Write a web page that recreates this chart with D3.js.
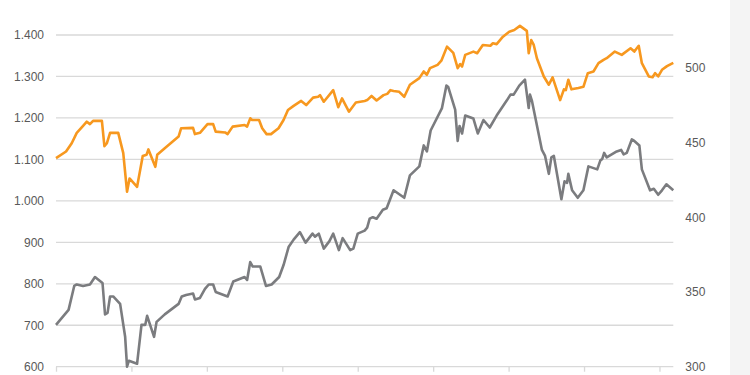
<!DOCTYPE html>
<html>
<head>
<meta charset="utf-8">
<script src="https://cdn.jsdelivr.net/npm/d3@7"></script>
<style>
  html, body { margin: 0; padding: 0; background: #fff; }
  svg { display: block; }
  .tick text { font-family: "Liberation Sans", Arial, sans-serif; font-size: 12px; fill: #595959; }
</style>
</head>
<body>
<svg id="chart" width="750" height="375"></svg>
<script>
// x = months since start, ticks every 12 months
var orangeMonths = [0, 1.6, 2.5, 3.3, 4.2, 4.9, 5.4, 5.9, 7.3, 7.7, 8.1, 8.6, 9.9, 10.7, 11.3, 11.7, 12.9,
  13.8, 14.4, 14.7, 15.8, 16.1, 17.3, 19.5, 19.9, 21.8, 22.1, 22.9, 24.1, 25.0, 25.4, 26.9, 27.3, 28.1,
  30.0, 30.4, 30.9, 31.2, 32.3, 32.8, 33.5, 34.2, 35.4, 36.2, 36.9, 37.8, 39.0, 39.8, 40.9, 41.7, 42.0,
  42.6, 44.1, 44.9, 45.5, 46.6, 47.7, 49.1, 49.5, 50.2, 51.0, 52.1, 52.7, 53.2, 53.7, 54.6, 55.4, 56.3,
  57.8, 58.5, 59.0, 59.5, 60.7, 61.3, 62.2, 63.2, 63.9, 64.3, 64.6, 65.1, 66.4, 67.0, 67.9, 69.1, 69.5,
  70.1, 71.1, 72.1, 72.9, 73.8, 74.9, 75.2, 75.6, 76.0, 76.5, 77.6, 78.4, 79.0, 80.2, 80.8, 81.1, 81.5,
  82.0, 83.1, 83.9, 84.6, 85.5, 86.3, 87.1, 87.6, 88.9, 90.0, 91.4, 92.0, 92.7, 93.2, 94.3, 94.9, 95.3,
  95.8, 96.4, 97.2, 98.2];
var orangeValues = [1103, 1119, 1139, 1164, 1179, 1191, 1185, 1193, 1193, 1132, 1139, 1164, 1164, 1115, 1022, 1054, 1034,
  1108, 1111, 1124, 1082, 1111, 1127, 1155, 1175, 1176, 1161, 1164, 1185, 1185, 1167, 1165, 1161, 1179,
  1183, 1179, 1199, 1195, 1195, 1175, 1161, 1161, 1175, 1195, 1219, 1229, 1241, 1231, 1249, 1251, 1255,
  1239, 1267, 1226, 1247, 1215, 1237, 1241, 1243, 1253, 1242, 1255, 1258, 1267, 1265, 1263, 1251, 1280,
  1296, 1312, 1304, 1320, 1328, 1338, 1372, 1357, 1320, 1330, 1324, 1352, 1360, 1356, 1376, 1374, 1380,
  1378, 1396, 1408, 1412, 1422, 1410, 1356, 1388, 1376, 1344, 1300, 1280, 1298, 1243, 1269, 1267, 1292,
  1269, 1272, 1275, 1308, 1312, 1332, 1340, 1344, 1360, 1352, 1368, 1360, 1374, 1332, 1300, 1298, 1308,
  1300, 1316, 1325, 1333];

var grayMonths = [0, 2.0, 2.9, 3.3, 4.3, 5.4, 6.2, 7.4, 7.8, 8.2, 8.6, 9.1, 10.2, 11.0, 11.3, 11.6, 12.9,
  13.6, 14.2, 14.5, 15.6, 16.0, 17.3, 19.5, 20.0, 20.7, 21.8, 22.1, 22.9, 23.7, 24.3, 25.0, 25.4, 27.3,
  28.2, 30.0, 30.4, 30.9, 31.3, 32.5, 33.4, 34.3, 35.5, 36.2, 37.0, 37.8, 38.8, 39.7, 40.8, 41.2, 41.8,
  42.6, 43.5, 44.1, 45.0, 45.6, 46.8, 47.3, 48.0, 49.1, 49.5, 49.9, 50.4, 51.0, 52.0, 52.6, 53.7, 55.4,
  56.3, 57.8, 58.5, 59.0, 59.6, 61.4, 62.1, 62.4, 63.5, 63.9, 64.2, 64.6, 65.1, 66.4, 67.1, 68.0, 69.0,
  70.1, 71.7, 72.3, 72.8, 73.7, 74.6, 75.2, 75.4, 75.7, 77.3, 77.8, 78.4, 78.8, 79.2, 80.4, 80.9, 81.3,
  81.5, 82.1, 83.0, 83.9, 84.7, 86.1, 86.6, 86.9, 87.2, 87.6, 89.2, 89.9, 90.3, 90.8, 91.6, 92.0, 92.8,
  93.2, 94.5, 95.1, 95.8, 96.4, 97.1, 98.2];
var grayValues = [328, 338, 354, 355, 354, 355, 360, 356, 335, 336, 347, 347, 342, 320, 300, 304, 302,
  328, 328, 334, 320, 330, 335, 342, 347, 348, 349, 345, 346, 352, 355, 355, 350, 347,
  357, 360, 358, 370, 367, 367, 354, 355, 360, 368, 380, 385, 390, 383, 389, 387, 389,
  379, 384, 389, 378, 386, 378, 379, 389, 391, 393, 399, 400, 399, 405, 406, 418, 413,
  428, 434, 448, 444, 458, 473, 488, 487, 472, 451, 461, 456, 468, 466, 456, 465, 460,
  468, 478, 482, 482, 488, 492, 473, 482, 478, 445, 441, 429, 440, 441, 412, 424, 423,
  429, 418, 413, 418, 434, 432, 438, 439, 443, 440, 444, 445, 442, 443, 452, 451, 448,
  432, 418, 419, 415, 418, 422, 418];

var leftTicks = [600, 700, 800, 900, 1000, 1100, 1200, 1300, 1400];
var rightTicks = [300, 350, 400, 450, 500];
var monthTicks = [0, 12, 24, 36, 48, 60, 72, 84, 96];

var svg = d3.select('#chart');
var plotLeft = 56, plotRight = 673.3, plotTop = 35, plotBottom = 366.7;

svg.append('rect').attr('x', 730).attr('y', 0).attr('width', 20).attr('height', 375).attr('fill', '#f4f4f4');

var x = d3.scaleLinear().domain([0, 98.2]).range([plotLeft, plotRight]);
var yLeft = d3.scaleLinear().domain([600, 1400]).range([plotBottom, plotTop]);
var yRight = d3.scaleLinear().domain([300, 300 + (plotBottom - plotTop) / 1.495]).range([plotBottom, plotTop]);

var de = d3.formatLocale({decimal: ',', thousands: '.', grouping: [3], currency: ['', ' €']});

// grid
svg.append('g')
  .selectAll('line')
  .data(leftTicks)
  .join('line')
  .attr('x1', plotLeft).attr('x2', plotRight)
  .attr('y1', d => yLeft(d)).attr('y2', d => yLeft(d))
  .attr('stroke', '#d9d9d9')
  .attr('stroke-width', 1.3);

// bottom ticks
var xAxis = svg.append('g')
  .attr('transform', 'translate(0,' + plotBottom + ')')
  .call(d3.axisBottom(x).tickValues(monthTicks).tickSize(5).tickFormat(''));
xAxis.select('.domain').remove();
xAxis.selectAll('.tick line').attr('stroke', '#d9d9d9').attr('stroke-width', 1.3);

var yAxisL = svg.append('g')
  .attr('transform', 'translate(' + plotLeft + ',0)')
  .call(d3.axisLeft(yLeft).tickValues(leftTicks).tickSize(0).tickPadding(12).tickFormat(de.format(',d')));
yAxisL.select('.domain').remove();

var yAxisR = svg.append('g')
  .attr('transform', 'translate(' + plotRight + ',0)')
  .call(d3.axisRight(yRight).tickValues(rightTicks).tickSize(0).tickPadding(12));
yAxisR.select('.domain').remove();

var orangeLine = d3.line()
  .x((d, i) => x(orangeMonths[i]))
  .y(d => yLeft(d));
var grayLine = d3.line()
  .x((d, i) => x(grayMonths[i]))
  .y(d => yRight(d));

svg.append('path')
  .datum(grayValues)
  .attr('d', grayLine)
  .attr('fill', 'none')
  .attr('stroke', '#7b7c7f')
  .attr('stroke-width', 2.6)
  .attr('stroke-linejoin', 'round');

svg.append('path')
  .datum(orangeValues)
  .attr('d', orangeLine)
  .attr('fill', 'none')
  .attr('stroke', '#f7981f')
  .attr('stroke-width', 2.6)
  .attr('stroke-linejoin', 'round');
</script>
</body>
</html>
